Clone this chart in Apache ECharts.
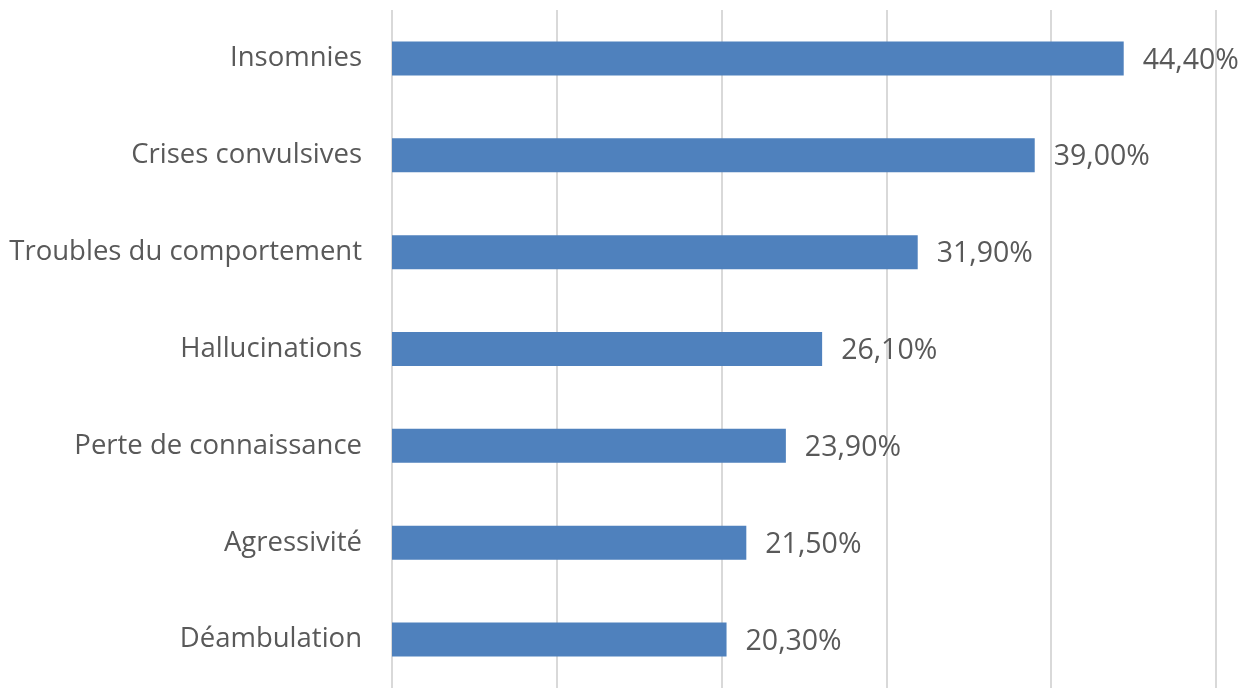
<!DOCTYPE html>
<html>
<head>
<meta charset="utf-8">
<script src="https://cdn.jsdelivr.net/npm/echarts@6/dist/echarts.min.js"></script>
<style>
html,body{margin:0;padding:0;background:#fff;}
#chart{width:1246px;height:688px;}
</style>
</head>
<body>
<div id="chart"></div>
<script>
const categories = ["Déambulation","Agressivité","Perte de connaissance","Hallucinations","Troubles du comportement","Crises convulsives","Insomnies"];
const values = [20.3, 21.5, 23.9, 26.1, 31.9, 39.0, 44.4];
const xTicks = [0, 10, 20, 30, 40, 50];

const chart = echarts.init(document.getElementById('chart'));
const fontFamily = '"Open Sans", "Noto Sans", sans-serif';
chart.setOption({
  animation: false,
  grid: { left: 392, top: 10, width: 824, height: 683, containLabel: false },
  xAxis: {
    type: 'value', min: xTicks[0], max: xTicks[xTicks.length-1], interval: 10,
    axisLabel: { show: false }, axisTick: { show: false }, axisLine: { show: false },
    splitLine: { show: true, lineStyle: { color: '#d9d9d9', width: 2 } }
  },
  yAxis: {
    type: 'category', data: categories,
    axisLine: { show: false }, axisTick: { show: false },
    axisLabel: { color: '#595959', fontSize: 27.5, fontFamily: fontFamily, margin: 30 }
  },
  series: [{
    type: 'bar', data: values, barWidth: 34,
    itemStyle: { color: '#4f81bd' },
    label: {
      show: true, position: 'right', distance: 19,
      color: '#595959', fontSize: 28.5, fontFamily: fontFamily,
      offset: [0, 2],
      formatter: p => p.value.toFixed(2).replace('.', ',') + '%'
    }
  }]
});
</script>
</body>
</html>
